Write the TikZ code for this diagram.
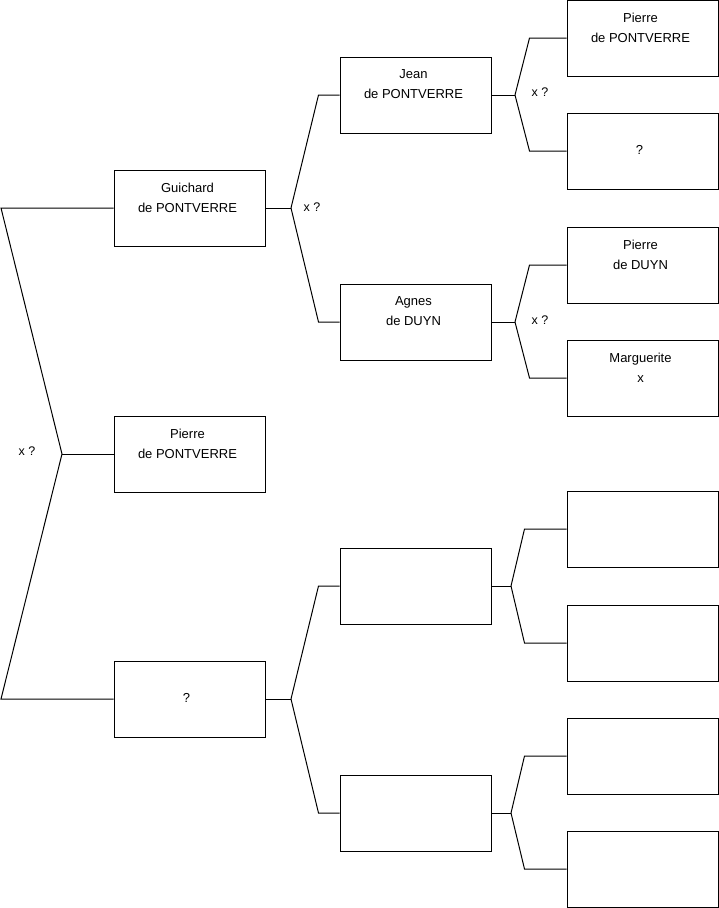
\documentclass[tikz,border=0pt]{standalone}
\usepackage{fontspec}
\setmainfont{Liberation Sans}
\begin{document}
\begin{tikzpicture}[x=1pt,y=-1pt,line width=1pt,
  box/.style={draw=black,minimum width=151pt,minimum height=76pt,inner sep=0pt},
  txt/.style={align=center,font=\fontsize{13}{20}\selectfont,inner sep=0pt},
  lbl/.style={font=\fontsize{12.5}{15}\selectfont,inner sep=0pt},
  conn/.style={draw=black,line width=1pt}]
\useasboundingbox (0,0) rectangle (719,908);
% column 1
\node[box] (g) at (189.5,208) {};
\node[box] (p) at (189.5,454) {};
\node[box] (q) at (189.5,699) {};
% column 2
\node[box] (j) at (415.5,95) {};
\node[box] (a) at (415.5,322) {};
\node[box] (e1) at (415.5,586) {};
\node[box] (e2) at (415.5,813) {};
% column 3
\node[box] (c1) at (642.5,38) {};
\node[box] (c2) at (642.5,151) {};
\node[box] (c3) at (642.5,265) {};
\node[box] (c4) at (642.5,378) {};
\node[box] (c5) at (642.5,529) {};
\node[box] (c6) at (642.5,643) {};
\node[box] (c7) at (642.5,756) {};
\node[box] (c8) at (642.5,869) {};
% texts
\node[txt] at ([xshift=-2pt,yshift=-28pt]g.north) {Guichard\\de PONTVERRE};
\node[txt] at ([xshift=-2pt,yshift=-28pt]p.north) {Pierre\\de PONTVERRE};
\node[txt] at ([xshift=-3pt,yshift=1.5pt]q.center) {?};
\node[txt] at ([xshift=-2pt,yshift=-28pt]j.north) {Jean\\de PONTVERRE};
\node[txt] at ([xshift=-2pt,yshift=-28pt]a.north) {Agnes\\de DUYN};
\node[txt] at ([xshift=-2pt,yshift=-28pt]c1.north) {Pierre\\de PONTVERRE};
\node[txt] at ([xshift=-3pt,yshift=1.5pt]c2.center) {?};
\node[txt] at ([xshift=-2pt,yshift=-28pt]c3.north) {Pierre\\de DUYN};
\node[txt] at ([xshift=-2pt,yshift=-28pt]c4.north) {Marguerite\\x};
% connector coordinates
\coordinate (L1) at (1,208);
\coordinate (Lm) at (62,454);
\coordinate (L2) at (1,699);
\coordinate (F1) at (291,208);
\coordinate (F2) at (291,699);
\coordinate (Fj) at (515,95);
\coordinate (Fa) at (515,322);
\coordinate (Fe1) at (511,586);
\coordinate (Fe2) at (511,813);
% left fork
\draw[conn] (g.west) -- (L1) -- (Lm) -- (L2) -- (q.west);
\draw[conn] (Lm) -- (p.west);
\node[lbl] at (27,451) {x ?};
% col1 -> col2
\draw[conn] (g.east) -- (F1);
\draw[conn] (F1) -- ([xshift=-21pt]j.west) -- (j.west);
\draw[conn] (F1) -- ([xshift=-21pt]a.west) -- (a.west);
\node[lbl] at (312,207) {x ?};
\draw[conn] (q.east) -- (F2);
\draw[conn] (F2) -- ([xshift=-21pt]e1.west) -- (e1.west);
\draw[conn] (F2) -- ([xshift=-21pt]e2.west) -- (e2.west);
% col2 -> col3
\draw[conn] (j.east) -- (Fj);
\draw[conn] (Fj) -- ([xshift=-37pt]c1.west) -- (c1.west);
\draw[conn] (Fj) -- ([xshift=-37pt]c2.west) -- (c2.west);
\node[lbl] at (540,92) {x ?};
\draw[conn] (a.east) -- (Fa);
\draw[conn] (Fa) -- ([xshift=-37pt]c3.west) -- (c3.west);
\draw[conn] (Fa) -- ([xshift=-37pt]c4.west) -- (c4.west);
\node[lbl] at (540,320) {x ?};
\draw[conn] (e1.east) -- (Fe1);
\draw[conn] (Fe1) -- ([xshift=-42pt]c5.west) -- (c5.west);
\draw[conn] (Fe1) -- ([xshift=-42pt]c6.west) -- (c6.west);
\draw[conn] (e2.east) -- (Fe2);
\draw[conn] (Fe2) -- ([xshift=-42pt]c7.west) -- (c7.west);
\draw[conn] (Fe2) -- ([xshift=-42pt]c8.west) -- (c8.west);
\end{tikzpicture}
\end{document}
